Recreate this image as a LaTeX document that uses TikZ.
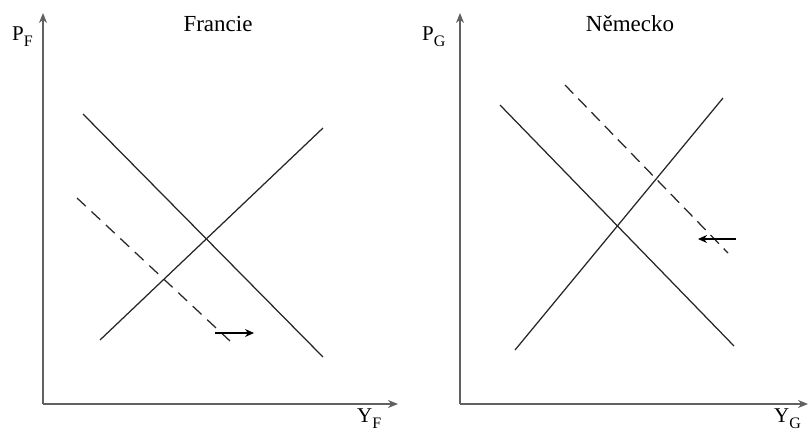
\documentclass[tikz,border=0pt]{standalone}
\usepackage{fontspec}
\setmainfont{Liberation Serif}
\usetikzlibrary{arrows.meta}
\newcommand{\lowsub}[1]{\raisebox{-0.3em}{\fontsize{16}{17}\selectfont #1}}
\begin{document}
\begin{tikzpicture}[x=1pt,y=-1pt,
  axis/.style={draw=black!62,line width=1.9pt,-{Stealth[length=10pt,width=8pt]}},
  curve/.style={draw=black!85,line width=1.25pt},
  shifted/.style={curve,dash pattern=on 12pt off 7.8pt},
  shiftedG/.style={curve,dash pattern=on 12pt off 7pt},
  shiftarrow/.style={draw=black,line width=1.2pt,-{Stealth[length=9pt,width=8pt]}},
  lbl/.style={font=\fontsize{21}{23}\selectfont,inner sep=0pt,anchor=base west},
  ttl/.style={font=\fontsize{23}{25}\selectfont,inner sep=0pt,anchor=base}]
\useasboundingbox (0,0) rectangle (808,432);
% Left panel: Francie
\coordinate (oF) at (43,404);
\coordinate (yF) at (43,13);
\coordinate (xF) at (398,404);
\draw[axis] (oF) -- (yF);
\draw[axis] (oF) -- (xF);
\node[lbl] (pF) at (12,40) {P\lowsub{F}};
\node[lbl] (YF) at (357,422) {Y\lowsub{F}};
\node[ttl] (tF) at (218,31) {Francie};
\coordinate (dF1) at (83,114);
\coordinate (dF2) at (323,357);
\coordinate (sF1) at (100,340);
\coordinate (sF2) at (323,128);
\coordinate (nF1) at (77,198);
\coordinate (nF2) at (230,341);
\coordinate (aF1) at (215,333);
\coordinate (aF2) at (254,333);
\draw[curve] (dF1) -- (dF2);
\draw[curve] (sF1) -- (sF2);
\draw[shifted] (nF1) -- (nF2);
\draw[shiftarrow] (aF1) -- (aF2);
% Right panel: Nemecko
\coordinate (oG) at (460,404);
\coordinate (yG) at (460,13);
\coordinate (xG) at (808,404);
\draw[axis] (oG) -- (yG);
\draw[axis] (oG) -- (xG);
\node[lbl] (pG) at (422,40) {P\lowsub{G}};
\node[lbl] (YG) at (774,422) {Y\lowsub{G}};
\node[ttl] (tG) at (630,31) {Německo};
\coordinate (dG1) at (500,105);
\coordinate (dG2) at (734,346);
\coordinate (sG1) at (515,350);
\coordinate (sG2) at (723,98);
\coordinate (nG1) at (565,85);
\coordinate (nG2) at (728,253);
\coordinate (aG1) at (736,239);
\coordinate (aG2) at (698,239);
\draw[curve] (dG1) -- (dG2);
\draw[curve] (sG1) -- (sG2);
\draw[shiftedG] (nG1) -- (nG2);
\draw[shiftarrow] (aG1) -- (aG2);
\end{tikzpicture}
\end{document}
